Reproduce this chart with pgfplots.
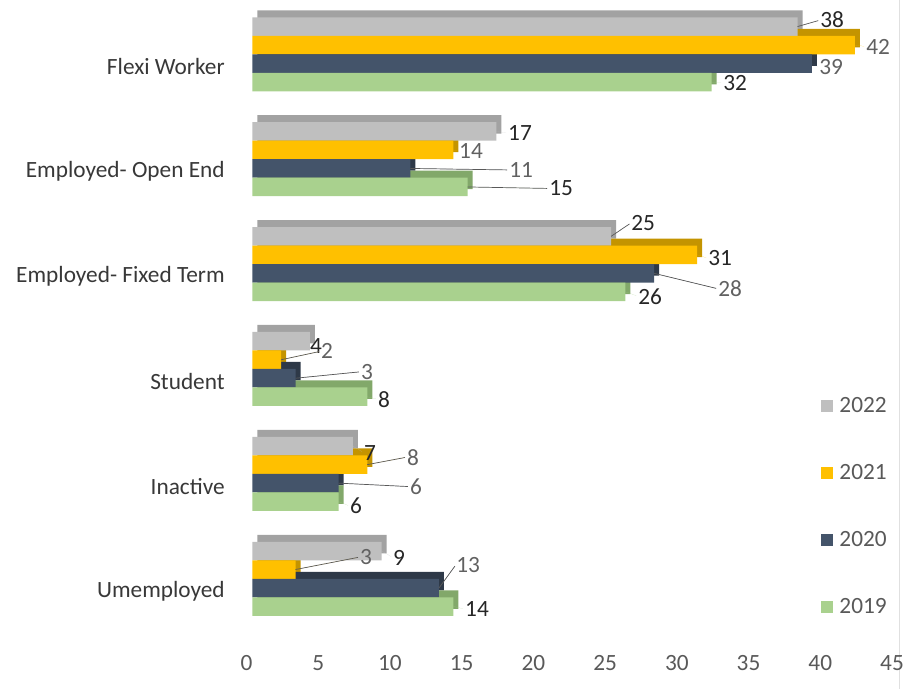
\documentclass[border=0pt]{standalone}
\usepackage{fontspec}
\setmainfont{Carlito}
\usepackage{pgfplots}
\usepackage{pgfplotstable}
\pgfplotsset{compat=1.18}
\definecolor{cgray}{HTML}{BFBFBF}
\definecolor{cyel}{HTML}{FFC000}
\definecolor{cblue}{HTML}{44546A}
\definecolor{cgreen}{HTML}{A9D18E}
\definecolor{dgray}{HTML}{A2A2A2}
\definecolor{dyel}{HTML}{C49400}
\definecolor{dblue}{HTML}{2E3948}
\definecolor{dgreen}{HTML}{82A86A}
\definecolor{txt}{HTML}{595959}
% columns: y (category), x (value), lx/ly label offset (pt), lc (label darkness), ld (leader line 1/0)
\pgfplotstableread{
y x lx ly lc ld
5 38 34.6 6.5 85 1
4 17 23.7 -1.5 85 0
3 25 32 13.5 85 1
2 4 6.1 -4.5 85 0
1 7 17.1 -6.5 85 0
0 9 17.4 -6.5 85 0
}\tabA
\pgfplotstableread{
y x lx ly lc ld
5 42 23.2 -1.5 62 0
4 14 17.7 -1.5 62 0
3 31 23 -3.5 85 0
2 2 45.8 8.5 62 1
1 8 45.8 7.5 62 1
0 3 70.5 12.5 62 1
}\tabB
\pgfplotstableread{
y x lx ly lc ld
5 39 19.2 -3.5 62 0
4 11 110.8 -1.5 62 1
3 28 76 -15.5 62 1
2 3 71.5 6.5 62 1
1 6 77.5 -3.5 62 1
0 13 29.1 23.5 62 1
}\tabC
\pgfplotstableread{
y x lx ly lc ld
5 32 23.6 -0.5 85 0
4 15 93.4 -1.5 85 1
3 26 24.7 -4.5 85 0
2 8 16.8 -2.5 85 0
1 6 17.5 -4.5 85 0
0 14 23.7 -2.5 85 0
}\tabD
\begin{document}
\begin{tikzpicture}
\path[use as bounding box] (-246.5pt,-41pt) rectangle (664.5pt,648pt);
\draw[black!12, line width=0.8pt] (653pt,-41pt) -- (653pt,648pt);
\begin{axis}[
  at={(0pt,0pt)}, anchor=south west,
  scale only axis,
  width=645.5pt, height=643.2pt,
  xbar, bar width=18.5pt,
  xmin=0, xmax=45, ymin=-0.66, ymax=5.472,
  xtick={0,5,...,45},
  ytick={0,1,2,3,4,5},
  yticklabels={Umemployed,Inactive,Student,Employed- Fixed Term,Employed- Open End,Flexi Worker},
  axis line style={draw=none},
  tick style={draw=none},
  font=\fontsize{23.3}{27}\selectfont,
  /pgf/number format/assume math mode=true,
  yticklabel style={text=black!78, anchor=east, xshift=-14pt, yshift=-12.5pt},
  xticklabel style={text=txt, yshift=-4pt},
  visualization depends on={\thisrow{lx} \as \lblx},
  visualization depends on={\thisrow{ly} \as \lbly},
  visualization depends on={\thisrow{lc} \as \lblc},
  visualization depends on={\thisrow{ld} \as \lbld},
  every node near coord/.append style={anchor=center, xshift=\lblx pt, yshift=\lbly pt, text=black!\lblc, inner sep=0pt,
    append after command={([xshift=-\lblx pt, yshift=-\lbly pt]\tikzlastnode.center) edge[draw=black!65, line width=0.7pt, draw opacity=\lbld, shorten >=2pt] (\tikzlastnode.west)}},
  legend style={at={(0.8858,0.3957)}, anchor=north west, draw=none, fill=none,
    row sep=46.3pt, text=txt, font=\fontsize{23.3}{27}\selectfont},
  legend cell align=left,
  legend image code/.code={\fill[#1,draw=none] (0pt,-6pt) rectangle (12pt,6pt); \path (16pt,0pt);},
]
% depth (3-D side and top faces)
\addplot[fill=dgray, draw=none, forget plot, bar shift=34.75pt, xshift=11pt] table[x=x,y=y] {\tabA};
\addplot[fill=dyel, draw=none, forget plot, bar shift=16.25pt, xshift=11pt] table[x=x,y=y] {\tabB};
\addplot[fill=dblue, draw=none, forget plot, bar shift=-2.25pt, xshift=11pt] table[x=x,y=y] {\tabC};
\addplot[fill=dgreen, draw=none, forget plot, bar shift=-20.75pt, xshift=11pt] table[x=x,y=y] {\tabD};
% front faces
\addplot[fill=cgray, draw=none, bar shift=27.75pt, xshift=6pt, nodes near coords] table[x=x,y=y] {\tabA};
\addlegendentry{2022}
\addplot[fill=cyel, draw=none, bar shift=9.25pt, xshift=6pt, nodes near coords] table[x=x,y=y] {\tabB};
\addlegendentry{2021}
\addplot[fill=cblue, draw=none, bar shift=-9.25pt, xshift=6pt, nodes near coords] table[x=x,y=y] {\tabC};
\addlegendentry{2020}
\addplot[fill=cgreen, draw=none, bar shift=-27.75pt, xshift=6pt, nodes near coords] table[x=x,y=y] {\tabD};
\addlegendentry{2019}
\end{axis}
\end{tikzpicture}
\end{document}
